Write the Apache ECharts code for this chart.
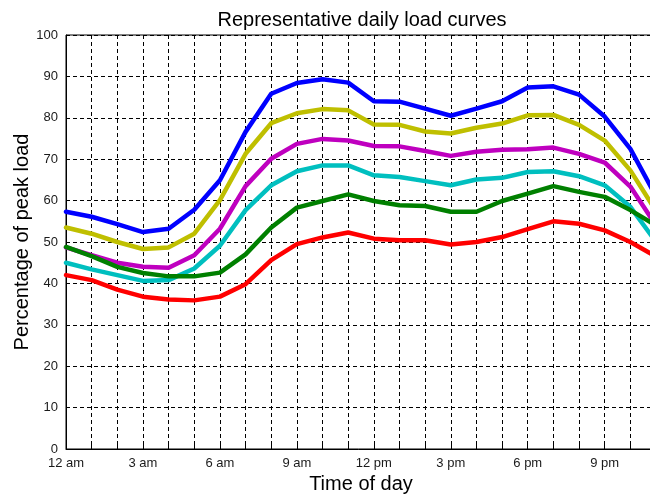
<!DOCTYPE html>
<html>
<head>
<meta charset="utf-8">
<script src="https://cdn.jsdelivr.net/npm/echarts@6/dist/echarts.min.js"></script>
<style>
  html, body { margin: 0; padding: 0; background: #fff; }
  #chart { width: 650px; height: 497px; }
</style>
</head>
<body>
<div id="chart"></div>
<script>
// Hour of day (0 = midnight) for each sample
const hours = [0,1,2,3,4,5,6,7,8,9,10,11,12,13,14,15,16,17,18,19,20,21,22,23];

// Labels shown every third hour
const timeLabels = ['12 am','3 am','6 am','9 am','12 pm','3 pm','6 pm','9 pm'];

// Y axis ticks (percentage of peak load)
const yTicks = [0,10,20,30,40,50,60,70,80,90,100];

// Representative load curves, percentage of peak load per hour
const curveBlue    = [57.3,56.1,54.3,52.4,53.2,57.8,64.9,76.6,85.8,88.4,89.3,88.5,84.0,83.9,82.2,80.5,82.2,84.0,87.3,87.6,85.6,80.3,72.5,61.0];
const curveYellow  = [53.5,52.0,50.0,48.3,48.7,52.0,60.1,71.3,78.7,81.1,82.1,81.8,78.4,78.3,76.7,76.2,77.6,78.6,80.6,80.7,78.3,74.5,67.3,57.5];
const curveMagenta = [48.7,46.8,45.0,44.0,43.8,46.8,53.2,63.5,70.1,73.7,74.9,74.5,73.2,73.1,72.0,70.8,71.8,72.3,72.4,72.8,71.3,69.2,63.4,54.0];
const curveCyan    = [45.0,43.4,42.0,40.6,40.8,43.6,49.1,57.7,63.7,67.1,68.5,68.5,66.1,65.7,64.7,63.7,65.1,65.5,66.9,67.1,65.9,63.7,58.5,50.0];
const curveGreen   = [48.8,46.6,44.0,42.5,41.7,41.7,42.6,47.0,53.5,58.3,59.9,61.5,59.9,58.9,58.7,57.3,57.3,59.9,61.7,63.5,62.1,60.9,57.7,54.0];
const curveRed     = [42.0,40.8,38.5,36.8,36.1,35.9,36.8,39.8,45.6,49.5,51.1,52.3,50.8,50.4,50.4,49.4,50.0,51.2,53.1,55.0,54.4,52.8,50.0,46.5];

const curves = [
  { name: 'Blue',    data: curveBlue,    color: '#0000ff' },
  { name: 'Yellow',  data: curveYellow,  color: '#bfbf00' },
  { name: 'Magenta', data: curveMagenta, color: '#bf00bf' },
  { name: 'Cyan',    data: curveCyan,    color: '#00bfbf' },
  { name: 'Green',   data: curveGreen,   color: '#008000' },
  { name: 'Red',     data: curveRed,     color: '#ff0000' }
];

const font = '"Liberation Sans", Arial, Helvetica, sans-serif';

const chart = echarts.init(document.getElementById('chart'), null, { renderer: 'canvas' });

chart.setOption({
  animation: false,
  backgroundColor: '#ffffff',
  title: {
    text: 'Representative daily load curves',
    left: 357, top: 5, textAlign: 'center',
    textStyle: { fontFamily: font, fontSize: 20, fontWeight: 'normal', color: '#000' }
  },
  grid: {
    left: 66, top: 35, width: 590, height: 414,
    outerBoundsMode: 'none', containLabel: false,
    show: true, borderColor: '#000', borderWidth: 1, backgroundColor: 'transparent'
  },
  xAxis: {
    type: 'value', min: 0, max: 23, interval: 1,
    name: 'Time of day', nameLocation: 'middle', nameGap: 25,
    nameTextStyle: { fontFamily: font, fontSize: 20, color: '#000' },
    axisLine: { show: true, onZero: false, lineStyle: { color: '#000', width: 1 } },
    axisTick: { show: true, inside: true, length: 4, lineStyle: { color: '#000' } },
    axisLabel: {
      fontFamily: font, fontSize: 13, color: '#1a1a1a', margin: 8,
      showMaxLabel: false,
      formatter: v => (v % 3 === 0 && timeLabels[v / 3] !== undefined) ? timeLabels[v / 3] : ''
    },
    splitLine: { show: true, lineStyle: { color: '#000', width: 1, type: [4, 3] } }
  },
  yAxis: {
    type: 'value', min: yTicks[0], max: yTicks[yTicks.length - 1], interval: 10,
    name: 'Percentage of peak load', nameLocation: 'middle', nameGap: 34,
    nameMoveOverlap: false,
    nameTextStyle: { fontFamily: font, fontSize: 20, color: '#000' },
    axisLine: { show: true, lineStyle: { color: '#000', width: 1 } },
    axisTick: { show: true, inside: true, length: 4, lineStyle: { color: '#000' } },
    axisLabel: { fontFamily: font, fontSize: 13, color: '#1a1a1a', margin: 8, verticalAlign: 'middle', padding: [0, 0, 3, 0] },
    splitLine: { show: true, lineStyle: { color: '#000', width: 1, type: [4, 3] } }
  },
  series: curves.map(c => ({
    name: c.name,
    type: 'line',
    data: hours.map((h, i) => [h, c.data[i]]),
    showSymbol: false,
    symbol: 'none',
    lineStyle: { color: c.color, width: 4.5, join: 'round', cap: 'round' },
    itemStyle: { color: c.color },
    clip: true
  }))
});
</script>
</body>
</html>
